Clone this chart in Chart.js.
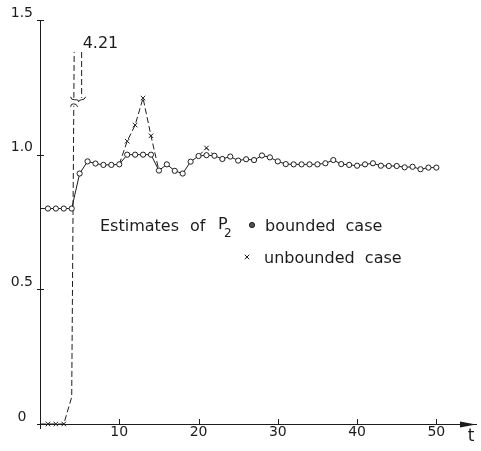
<!DOCTYPE html>
<html>
<head>
<meta charset="utf-8">
<script src="https://cdn.jsdelivr.net/npm/chart.js@4.4.1/dist/chart.umd.min.js"></script>
<style>
  html, body { margin: 0; padding: 0; background: #fff; }
  #wrap { width: 481px; height: 451px; position: relative; }
</style>
</head>
<body>
<div id="wrap"><canvas id="estChart"></canvas></div>
<script>
// time steps
const tSteps = [0, 1, 2, 3, 4, 5, 6, 7, 8, 9, 10, 11, 12, 13, 14, 15, 16, 17, 18, 19, 20,
  21, 22, 23, 24, 25, 26, 27, 28, 29, 30, 31, 32, 33, 34, 35, 36, 37, 38, 39, 40,
  41, 42, 43, 44, 45, 46, 47, 48, 49, 50];

// estimates of P2, bounded case (circles, solid line)
const bounded = [0.80, 0.80, 0.80, 0.80, 0.80, 0.93, 0.975, 0.967, 0.962, 0.962, 0.964,
  1.0, 1.0, 1.0, 1.0, 0.941, 0.964, 0.94, 0.93, 0.974, 0.995,
  0.998, 0.996, 0.984, 0.993, 0.978, 0.983, 0.98, 0.997, 0.99, 0.975,
  0.965, 0.964, 0.964, 0.964, 0.964, 0.968, 0.98, 0.965, 0.962, 0.959,
  0.964, 0.968, 0.959, 0.958, 0.958, 0.953, 0.955, 0.946, 0.952, 0.952];

// unbounded case (crosses, dashed line); null where it sits on the bounded curve
const unbounded = [0, 0, 0, 0, 0.1, 4.21, null, null, null, null, 0.964,
  1.05, 1.11, 1.21, 1.07, 0.941, null, null, null, null, 0.995,
  1.025, 0.996, null, null, null, null, null, null, null, null,
  null, null, null, null, null, null, null, null, null, null,
  null, null, null, null, null, null, null, null, null, null];
// steps where a cross is actually plotted
const unboundedMarked = [1, 2, 3, 11, 12, 13, 14, 21];

const xTickValues = [10, 20, 30, 40, 50];
const yTickValues = [0, 0.5, 1.0, 1.5];
const yTickLabels = ["0", "0.5", "1.0", "1.5"];

const ink = "#1c1c1c";
const font = "'DejaVu Sans', sans-serif";

// axis crosses, arrow, off-scale break and the key text
const plotterDecor = {
  id: "plotterDecor",
  afterDraw(chart) {
    const c = chart.ctx;
    const xs = chart.scales.x;
    const ys = chart.scales.y;
    const area = chart.chartArea;
    const x0 = xs.getPixelForValue(0);
    const y0 = ys.getPixelForValue(0);
    c.save();
    c.strokeStyle = ink;
    c.fillStyle = ink;
    c.lineWidth = 1;

    // y axis runs a little below the t axis
    c.beginPath();
    c.moveTo(x0 + 0.5, y0);
    c.lineTo(x0 + 0.5, y0 + 5);
    c.stroke();

    // tick crosses
    yTickValues.forEach(v => {
      const py = Math.round(ys.getPixelForValue(v)) + 0.5;
      c.beginPath();
      c.moveTo(x0 - 3, py);
      c.lineTo(x0 + 4, py);
      c.stroke();
    });
    xTickValues.forEach(v => {
      const px = Math.round(xs.getPixelForValue(v)) + 0.5;
      c.beginPath();
      c.moveTo(px, y0 - 5);
      c.lineTo(px, y0 + 1);
      c.stroke();
    });

    // arrow head on t axis
    c.beginPath();
    c.moveTo(area.right, y0 + 0.5);
    c.lineTo(area.right - 16, y0 - 2.5);
    c.lineTo(area.right - 16, y0 + 3.5);
    c.closePath();
    c.fill();

    c.font = "17px " + font;
    c.textAlign = "center";
    c.textBaseline = "middle";
    c.fillText("t", area.right - 5, y0 + 13);

    // off-scale spike of the unbounded case
    let peakIdx = 0;
    unbounded.forEach((v, i) => { if (v !== null && v > unbounded[peakIdx]) peakIdx = i; });
    const peakX = xs.getPixelForValue(tSteps[peakIdx]);
    const topY = area.top + 32;
    const breakY = ys.getPixelForValue(1.2);
    const lineX = peakX - 6;

    c.fillStyle = "#fff";
    c.fillRect(lineX - 3, breakY - 3, 6, 8);
    c.fillStyle = ink;

    c.setLineDash([6, 3]);
    c.beginPath();
    c.moveTo(peakX + 2, topY);
    c.lineTo(peakX + 2, breakY - 3);
    c.stroke();
    c.setLineDash([]);

    c.beginPath();
    c.moveTo(lineX - 3, breakY - 4);
    c.quadraticCurveTo(lineX - 3, breakY - 1, lineX + 1, breakY - 1);
    c.lineTo(lineX + 3, breakY - 1);
    c.quadraticCurveTo(lineX + 5, breakY - 1, lineX + 5, breakY + 1);
    c.quadraticCurveTo(lineX + 5, breakY - 1, lineX + 8, breakY - 1);
    c.quadraticCurveTo(lineX + 11, breakY - 1, lineX + 12, breakY - 4);
    c.stroke();
    c.beginPath();
    c.moveTo(lineX - 3, breakY + 6);
    c.quadraticCurveTo(lineX - 3, breakY + 3, lineX, breakY + 3);
    c.quadraticCurveTo(lineX + 3, breakY + 3, lineX + 4, breakY + 6);
    c.stroke();

    c.font = "16px " + font;
    c.textAlign = "left";
    c.textBaseline = "alphabetic";
    c.fillText(unbounded[peakIdx].toFixed(2), peakX + 3, topY - 4);

    // key
    c.fillText("Estimates", 100, 231);
    c.fillText("of", 190, 231);
    c.fillText("P", 218, 229);
    c.font = "12px " + font;
    c.fillText("2", 224, 237);
    c.font = "16px " + font;
    c.fillStyle = "#555";
    Chart.helpers.drawPoint(c, { pointStyle: "circle", radius: 2.6, borderWidth: 1 }, 252, 225);
    c.fillStyle = ink;
    c.fillText("bounded  case", 265, 231);
    c.lineWidth = 1;
    Chart.helpers.drawPoint(c, { pointStyle: "crossRot", radius: 3.2, borderWidth: 1 }, 247, 257);
    c.fillText("unbounded  case", 264, 263);
    c.restore();
  }
};

const ctx = document.getElementById("estChart").getContext("2d");
const estChart = new Chart(ctx, {
  type: "line",
  data: {
    datasets: [{
      label: "bounded case",
      data: tSteps.map((t, i) => ({ x: t, y: bounded[i] })),
      borderColor: ink,
      borderWidth: 1,
      tension: 0,
      pointStyle: "circle",
      pointRadius: c => (c.dataIndex === 0 ? 0 : 2.6),
      pointBorderWidth: 1,
      pointBorderColor: ink,
      pointBackgroundColor: "#fff"
    }, {
      label: "unbounded case",
      data: tSteps.map((t, i) => ({ x: t, y: unbounded[i] })),
      borderColor: ink,
      borderWidth: 1,
      borderDash: [6, 3],
      spanGaps: false,
      tension: 0,
      pointStyle: "crossRot",
      pointRadius: c => (c.raw && unboundedMarked.includes(c.raw.x) ? 3.2 : 0),
      pointBorderWidth: 1,
      pointBorderColor: ink,
      clip: { left: 8, top: -32, right: 8, bottom: 8 }
    }]
  },
  options: {
    responsive: true,
    maintainAspectRatio: false,
    animation: false,
    events: [],
    layout: { padding: { top: 20, right: 1, left: 0, bottom: 0 } },
    plugins: {
      legend: { display: false },
      tooltip: { enabled: false }
    },
    scales: {
      x: {
        type: "linear",
        min: 0,
        max: 55,
        afterBuildTicks: s => { s.ticks = xTickValues.map(v => ({ value: v })); },
        afterFit: s => { s.height = 27; },
        grid: { display: false, drawTicks: false },
        border: { display: true, color: ink, width: 1 },
        ticks: {
          color: ink,
          font: { family: font, size: 14 },
          padding: 0,
          maxRotation: 0,
          autoSkip: false
        }
      },
      y: {
        min: 0,
        max: 1.5,
        afterBuildTicks: s => { s.ticks = yTickValues.map(v => ({ value: v })); },
        afterFit: s => { s.width = 40; },
        grid: { display: false, drawTicks: false },
        border: { display: true, color: ink, width: 1 },
        ticks: {
          color: ink,
          font: { family: font, size: 14 },
          padding: 7,
          crossAlign: "center",
          labelOffset: -7,
          callback: v => yTickLabels[yTickValues.indexOf(v)]
        }
      }
    }
  },
  plugins: [plotterDecor]
});
</script>
</body>
</html>
